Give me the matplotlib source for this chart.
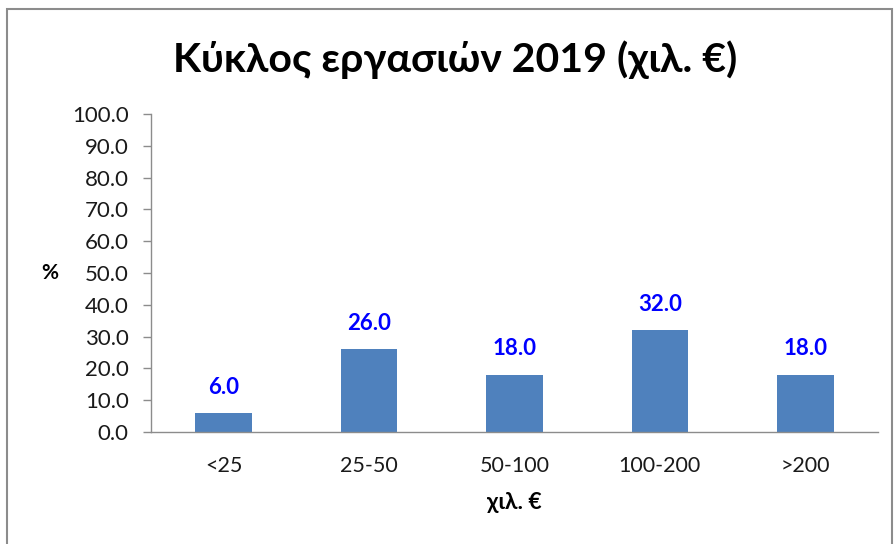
import matplotlib
matplotlib.use("Agg")
import matplotlib.pyplot as plt
from matplotlib.patches import Rectangle
from matplotlib.ticker import FormatStrFormatter

categories = ["<25", "25-50", "50-100", "100-200", ">200"]
values = [6.0, 26.0, 18.0, 32.0, 18.0]
title = "Κύκλος εργασιών 2019 (χιλ. €)"
xlabel = "χιλ. €"
ylabel = "%"

plt.rcParams['font.family'] = ['Lato', 'Open Sans', 'DejaVu Sans']

W, H = 894, 544
fig = plt.figure(figsize=(W/100, H/100), dpi=100)
ax = fig.add_axes([151/W, 1-432/H, (878-151)/W, (432-114)/H])

x = list(range(len(categories)))
bars = ax.bar(x, values, width=0.39, color="#4F81BD")
for xi, v in zip(x, values):
    ax.annotate(f"{v:.1f}", (xi, v), xytext=(0, 11), textcoords="offset points",
                ha="center", va="bottom", color="#0000FF", fontsize=16, fontweight="bold")

ax.set_xlim(-0.5, len(categories)-0.5)
ax.set_ylim(0, 100)
ax.set_yticks(range(0, 101, 10))
ax.yaxis.set_major_formatter(FormatStrFormatter("%.1f"))
ax.set_xticks(x)
ax.set_xticklabels(categories)
ax.tick_params(axis="x", length=0, pad=17, labelsize=15.5, labelcolor="#1a1a1a")
ax.tick_params(axis="y", length=6, width=1, color="#8c8c8c", pad=10, labelsize=16, labelcolor="#1a1a1a")
for s in ["top", "right"]:
    ax.spines[s].set_visible(False)
for s in ["left", "bottom"]:
    ax.spines[s].set_color("#8c8c8c")
    ax.spines[s].set_linewidth(1)

ax.set_xlabel(xlabel, fontsize=16.5, fontweight="bold", labelpad=12)
ax.set_ylabel(ylabel, fontsize=15, fontweight="bold", rotation=0, va="center")
ax.yaxis.set_label_coords(-0.139, 0.5)

fig.text(455/W, 1-60/H, title, ha="center", va="center", fontsize=29.5, fontweight="bold", color="black")

fig.patches.append(Rectangle((7/W, -0.05), (892-7)/W, 1.05-9/H, transform=fig.transFigure,
                             fill=False, edgecolor="#8c8c8c", linewidth=1.5))

fig.savefig("out.png", dpi=100)
